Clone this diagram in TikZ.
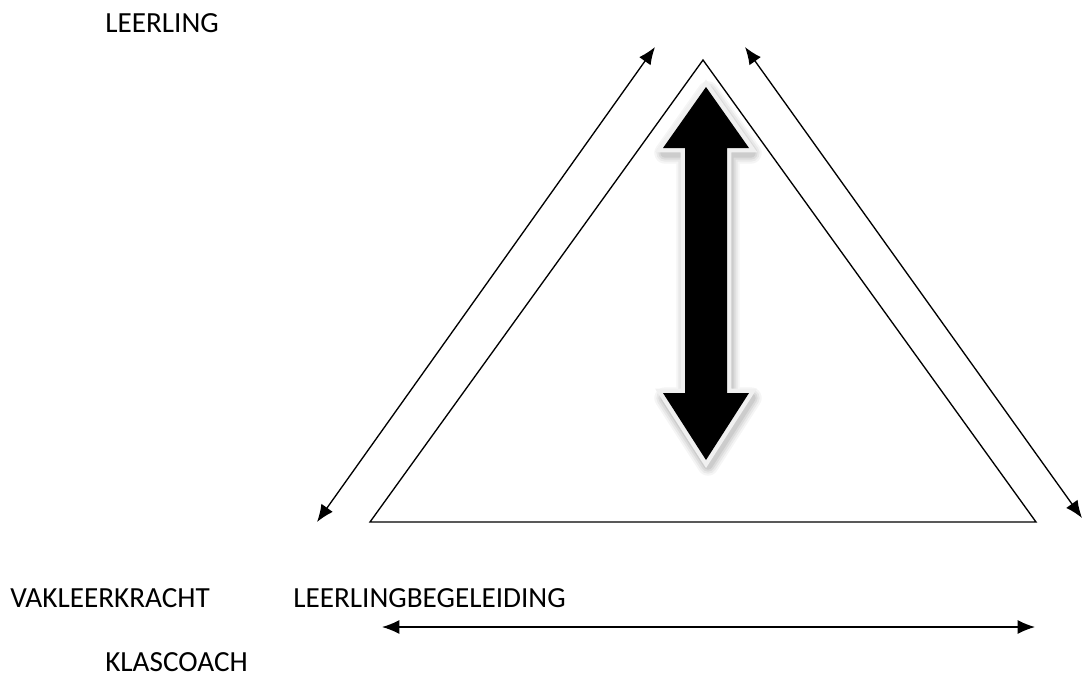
\documentclass[tikz,border=0pt]{standalone}
\usepackage{fontspec}
\setmainfont{Carlito}
\usetikzlibrary{arrows.meta}
\begin{document}
\begin{tikzpicture}[x=0.75pt,y=-0.75pt,
  lbl/.style={font=\fontsize{21.9}{26}\selectfont, inner sep=0pt, anchor=base west},
  thin/.style={line width=1pt},
  dbl/.style={thin, {Latex[length=13pt,width=10.5pt]}-{Latex[length=13pt,width=10.5pt]}}]
\useasboundingbox (0,0) rectangle (1082,679);
% texts
\node[lbl] (leerling) at (105,32) {LEERLING};
\node[lbl] (vak) at (10,607) {VAKLEERKRACHT};
\node[lbl] (begel) at (293,607) {LEERLINGBEGELEIDING};
\node[lbl] (klas) at (105,671) {KLASCOACH};
% triangle
\coordinate (A) at (703,60);
\coordinate (B) at (370,522);
\coordinate (C) at (1036,522);
\draw[thin, line join=miter] (A) -- (B) -- (C) -- cycle;
% outer arrows
\coordinate (l1) at (317,522);
\coordinate (l2) at (655,47);
\coordinate (r1) at (745,47);
\coordinate (r2) at (1082,518);
\coordinate (b1) at (382,627);
\coordinate (b2) at (1035,627);
\draw[dbl] (l1) -- (l2);
\draw[dbl] (r1) -- (r2);
\draw[dbl] (b1) -- (b2);
% big double arrow
\def\bigarrow{(706,87) -- (749,148) -- (727,148) -- (727,393) -- (749,393) -- (706,460) -- (663,393) -- (685,393) -- (685,148) -- (663,148) -- cycle}
\foreach \w/\o in {16/0.04,13/0.05,10/0.06,7/0.07}
  \draw[black, opacity=\o, line width=\w, line join=round, shift={(2,5)}] \bigarrow;
\draw[fill=black, draw=black!6, line width=6.5, line join=miter] \bigarrow;
\fill[black] \bigarrow;
\end{tikzpicture}
\end{document}
